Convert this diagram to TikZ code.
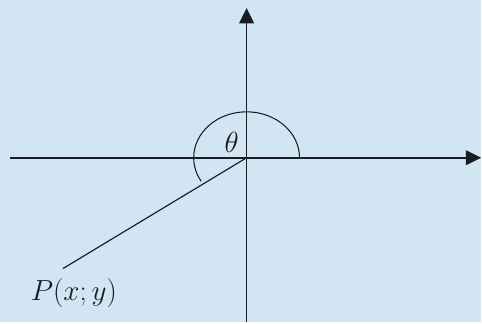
\documentclass[tikz,border=0pt]{standalone}
\usepackage{amsmath}
\usetikzlibrary{arrows.meta}
\definecolor{paperColor}{RGB}{210,229,243}
\definecolor{inkColor}{RGB}{25,28,35}
\tikzstyle{sheet} = [x = 0.03cm, y = -0.03cm]
\tikzstyle{axisLine} = [color=inkColor, line width=1.3pt, -{Triangle[length=0.46cm, width=0.44cm]}]
\tikzstyle{rayLine} = [color=inkColor, line width=1pt]
\tikzstyle{angleArc} = [color=inkColor, line width=0.9pt]
\tikzstyle{labelText} = [text=inkColor, inner sep=0pt, font=\fontsize{23}{27}\selectfont]

\begin{document}
\begin{tikzpicture}[sheet]
  % paper
  \fill [paperColor] (0,0) rectangle (482,323);

  \coordinate (origin) at (247,158);
  \coordinate (xStart) at (10,158);
  \coordinate (xEnd) at (482,158);
  \coordinate (yStart) at (247,323);
  \coordinate (yEnd) at (247,8);
  \coordinate (rayEnd) at (63,269);

  % axes
  \draw [axisLine] (xStart) -- (xEnd);
  \draw [axisLine] (yStart) -- (yEnd);

  % ray and angle
  \draw [rayLine] (origin) -- (rayEnd);
  \draw [angleArc] (origin) ++(53,0) arc [start angle=0, end angle=-211, x radius=53, y radius=46];

  \node [labelText] (theta) at (232,143) {$\theta$};
  \node [labelText] (point) at (74,294) {$P(x;y)$};
\end{tikzpicture}
\end{document}
